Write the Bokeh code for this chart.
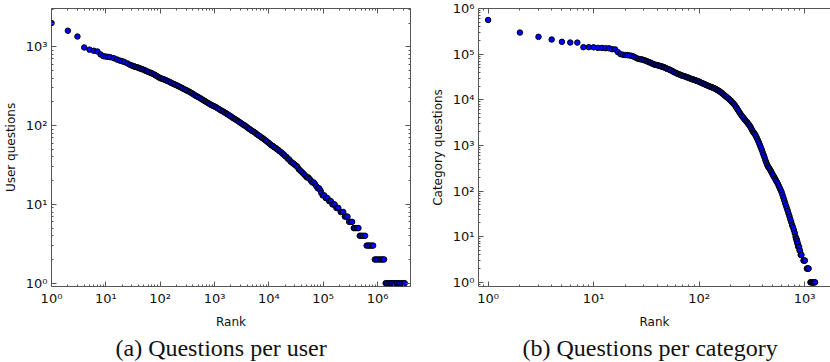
from bokeh.plotting import figure
from bokeh.models import LogAxis, FixedTicker, Title, Range1d
from bokeh.layouts import row
from bokeh.embed import file_html
from bokeh.resources import INLINE

# ---------------- data ----------------
user_rank = [1, 2, 3, 4, 5, 6, 7, 8, 9,
             10, 11, 12, 14, 16, 18, 20, 22, 25, 28,
             30, 32, 34, 35, 38, 40, 42, 45, 47, 50, 53, 56, 59, 63, 67, 70, 75, 80, 84, 89, 94,
             100, 106, 112, 119, 126, 133, 141, 150, 158, 168,
             178, 188, 200, 211, 224, 237, 251, 266, 282, 299,
             316, 335, 355, 376, 398, 422, 447, 473, 501, 531,
             562, 596, 631, 668, 708, 750, 794, 841, 891, 944,
             1000, 1059, 1122, 1189, 1259, 1334, 1413, 1496, 1585, 1679,
             1778, 1884, 1995, 2113, 2239, 2371, 2512, 2661, 2818, 2985,
             3162, 3350, 3548, 3758, 3981, 4217, 4467, 4732, 5012, 5309,
             5623, 5957, 6310, 6683, 7079, 7499, 7943, 8414, 8913, 9441,
             10000, 10590, 11220, 11890, 12590, 13340, 14130, 14960, 15850, 16790,
             17780, 18840, 19950, 21130, 22390, 23710, 25120, 26610, 28180, 29850,
             31620, 33500, 35480, 37580, 39810, 42170, 44670, 47320, 50120, 53090,
             56230, 59570, 63100, 66830, 70790, 74990, 79430, 84140, 89130,
             92000, 98000, 105000, 112000, 120000, 129000, 138000,
             148000, 155000, 162000, 175000, 183000, 190000,
             210000, 222000, 234000, 250000, 265000, 280000,
             300000, 320000, 340000, 365000, 390000, 420000, 445000,
             470000, 500000, 540000, 590000,
             630000, 675000, 725000, 775000, 830000,
             890000, 950000, 1020000, 1100000, 1170000, 1250000, 1320000,
             1410000, 1510000, 1620000, 1740000, 1860000, 2000000, 2140000,
             2290000, 2450000, 2630000, 2820000, 3020000, 3160000]
user_questions = [2000, 1600, 1350, 980, 920, 890, 871, 800, 760,
                  750, 745, 738, 716, 690, 668, 655, 640, 615, 590,
                  578, 568, 560, 556, 548, 540, 532, 525, 518, 510, 500, 492, 483, 474, 467,
                  460, 450, 440, 430, 420, 410,
                  400, 395, 390, 384, 378, 371, 365, 357, 350, 343,
                  337, 331, 325, 319, 313, 306, 300, 294, 288, 282,
                  277, 271, 265, 259, 253, 246, 240, 235, 230, 225,
                  220, 214, 209, 204, 199, 194, 190, 185, 181, 178,
                  175, 171, 167, 163, 159, 155, 152, 148, 145, 141,
                  138, 134, 131, 127, 124, 121, 118, 115, 112, 109,
                  106, 103, 101, 98, 95, 92, 90, 87, 85, 83,
                  81, 78, 76, 74, 72, 70, 68, 66, 64, 62,
                  60, 58, 56, 55, 53, 52, 50, 49, 47, 46,
                  44, 43, 41, 40, 38, 37, 35, 34, 33, 32,
                  31, 30, 28, 27, 26, 25, 24, 23, 22, 22,
                  21, 20, 19, 19, 18, 17, 16, 16, 15,
                  14, 13, 13, 12, 12, 11, 11,
                  10, 10, 10, 9, 9, 9,
                  8, 8, 8, 7, 7, 7,
                  6, 6, 6, 5, 5, 5, 5,
                  4, 4, 4, 4,
                  3, 3, 3, 3, 3,
                  2, 2, 2, 2, 2, 2, 2,
                  1, 1, 1, 1, 1, 1, 1,
                  1, 1, 1, 1, 1, 1]

cat_rank = [1, 2, 3, 4, 5, 6, 7, 8, 9, 10, 11, 12, 13, 14, 15, 16,
            17, 18, 19, 20, 21, 22, 23, 24, 25, 26, 27, 28, 29, 30,
            31, 32, 33, 34, 35, 36, 37, 38, 39, 40, 41, 42, 43, 44, 45, 46, 47, 48, 49, 50,
            52, 53, 54, 56, 57, 58, 60, 61, 63, 64, 66, 67, 69, 70, 72, 74, 76, 77, 79, 81,
            83, 85, 87, 89, 91, 93, 95, 97,
            100, 102, 105, 107, 110, 112, 115, 117, 120, 123,
            126, 129, 132, 135, 138, 141, 145, 148, 151, 155,
            158, 162, 166, 170, 174, 178, 182, 186, 191, 195,
            200, 204, 209, 214, 219, 224, 229, 234, 240, 245,
            251, 257, 263, 269, 275, 282, 288, 294,
            300, 306, 312, 318, 324, 330, 336, 343, 350, 357,
            364, 371, 378, 385, 393, 401, 409, 417, 425, 433,
            442, 451, 460, 469, 478, 487, 497, 507, 517, 527,
            537, 548, 559, 570, 581, 592, 604, 616, 628, 640,
            652, 665, 678, 691, 704, 718, 732, 746, 760, 775,
            790, 805, 820,
            830, 836, 843, 850, 856, 862, 870, 878, 886, 895, 903,
            918, 925, 932, 975, 985, 995, 1005,
            1050, 1060, 1070, 1080, 1090,
            1135, 1150, 1165, 1180, 1195, 1210, 1225, 1240, 1255]
cat_questions = [560000, 297000, 239000, 209000, 186000, 180000, 179000, 142000,
                 142000, 141000, 137000, 137000, 135000, 134000, 128000, 127000,
                 110000, 100000, 97000, 95500, 95000, 93500, 91500, 88000, 84000,
                 80000, 78000, 77000, 76000, 74000,
                 72000, 70000, 67500, 66000, 64000, 62000, 60000, 59000, 58000, 57200,
                 56500, 55500, 54500, 53700, 53000, 52000, 51000, 49700, 48500, 47700,
                 46000, 45000, 44000, 42500, 41000, 40000, 39000, 38000, 37000, 36200,
                 35500, 34700, 34000, 33500, 33000, 32200, 31500, 31000, 30500, 29700,
                 29000, 28500, 28000, 27500, 27000, 26500, 26000, 25500,
                 25000, 24200, 23500, 23000, 22500, 22000, 21500, 21000, 20500, 20000,
                 19500, 19150, 18800, 18400, 18000, 17500, 17000, 16500, 16000, 15500,
                 15000, 14400, 13800, 13100, 12500, 12000, 11500, 11000, 10500, 10000,
                 9500, 9000, 8500, 8000, 7500, 6900, 6400, 5900, 5400, 5000,
                 4600, 4300, 4000, 3750, 3500, 3300, 3100, 2900,
                 2750, 2550, 2350, 2150, 2000, 1900, 1780, 1650, 1500, 1360,
                 1230, 1110, 990, 890, 790, 690, 610, 540, 470, 420,
                 375, 340, 318, 297, 275, 252, 232, 213, 197, 183,
                 168, 155, 142, 128, 116, 105, 95, 83, 72, 63,
                 55, 48, 42, 37, 32, 28, 24, 21, 18, 16,
                 14, 12, 10,
                 9, 9, 8, 8, 7, 7, 6, 6, 6, 5, 5,
                 4, 4, 4, 3, 3, 3, 3,
                 2, 2, 2, 2, 2,
                 1, 1, 1, 1, 1, 1, 1, 1, 1]

assert len(user_rank) == len(user_questions)
assert len(cat_rank) == len(cat_questions)

# tick values and labels
a_x_ticks = [1, 10, 100, 1000, 10000, 100000, 1000000]
a_x_labels = ["10\u2070", "10\u00b9", "10\u00b2", "10\u00b3", "10\u2074", "10\u2075", "10\u2076"]
a_y_ticks = [1, 10, 100, 1000]
a_y_labels = ["10\u2070", "10\u00b9", "10\u00b2", "10\u00b3"]
b_x_ticks = [1, 10, 100, 1000]
b_x_labels = ["10\u2070", "10\u00b9", "10\u00b2", "10\u00b3"]
b_y_ticks = [1, 10, 100, 1000, 10000, 100000, 1000000]
b_y_labels = ["10\u2070", "10\u00b9", "10\u00b2", "10\u00b3", "10\u2074", "10\u2075", "10\u2076"]

MINOR = [m * 10 ** k for k in range(-1, 8) for m in range(2, 10)]
FRAME = "#555555"
TICK_FONT = "13px"
LABEL_FONT = "12px"


def style_axis(ax, ticks, labels, show_labels):
    ax.ticker = FixedTicker(ticks=ticks, minor_ticks=MINOR)
    ax.major_tick_in = 5
    ax.major_tick_out = 0
    ax.minor_tick_in = 2
    ax.minor_tick_out = 0
    ax.major_tick_line_color = FRAME
    ax.minor_tick_line_color = FRAME
    ax.axis_line_color = None
    ax.major_label_text_font = "DejaVu Sans"
    ax.major_label_text_font_size = TICK_FONT
    ax.major_label_text_color = "#111111"
    if show_labels:
        ax.major_label_overrides = {t: s for t, s in zip(ticks, labels)}
        ax.major_label_standoff = 4
    else:
        ax.major_label_overrides = {t: "" for t in ticks}
        ax.major_label_standoff = 0
    ax.axis_label_text_font = "DejaVu Sans"
    ax.axis_label_text_font_size = LABEL_FONT
    ax.axis_label_text_font_style = "normal"
    ax.axis_label_text_color = "#111111"


def make_panel(ranks, vals, xr, yr, xt, xl, yt, yl, ylabel, caption,
               frame_w, border_l, border_r, right_ticks, cap_offset):
    p = figure(frame_width=frame_w, frame_height=278,
               x_axis_type="log", y_axis_type="log",
               x_range=Range1d(*xr), y_range=Range1d(*yr),
               output_backend="svg", toolbar_location=None,
               min_border_left=border_l, min_border_right=border_r,
               min_border_top=8, min_border_bottom=68)
    p.grid.visible = False
    p.outline_line_color = FRAME if right_ticks else None
    p.outline_line_width = 1
    p.background_fill_color = "white"
    p.border_fill_color = "white"

    style_axis(p.xaxis[0], xt, xl, True)
    style_axis(p.yaxis[0], yt, yl, True)
    p.xaxis[0].axis_label = "Rank"
    p.xaxis[0].axis_label_standoff = 6
    p.yaxis[0].axis_label = ylabel
    p.yaxis[0].axis_label_standoff = 5
    if not right_ticks:
        p.xaxis[0].axis_line_color = FRAME
        p.yaxis[0].axis_line_color = FRAME

    top = LogAxis()
    style_axis(top, xt, xl, False)
    if not right_ticks:
        top.axis_line_color = FRAME
    p.add_layout(top, "above")
    if right_ticks:
        right = LogAxis()
        style_axis(right, yt, yl, False)
        p.add_layout(right, "right")

    p.add_layout(Title(text=caption, align="left", offset=cap_offset,
                       text_font="Liberation Serif", text_font_size="24px",
                       text_font_style="normal", text_color="#111111",
                       standoff=2), "below")

    p.scatter(ranks, vals, size=5.5, fill_color="#0000ff",
              line_color="black", line_width=1.0)
    return p


pa = make_panel(user_rank, user_questions, (1, 4.04e6), (0.908, 3060),
                a_x_ticks, a_x_labels, a_y_ticks, a_y_labels,
                "User questions", "(a) Questions per user",
                359, 46, 17, True, 64)
pb = make_panel(cat_rank, cat_questions, (0.81, 1758), (0.81, 1.0e6),
                b_x_ticks, b_x_labels, b_y_ticks, b_y_labels,
                "Category questions", "(b) Questions per category",
                352, 48, 0, False, 44)

layout = row(pa, pb)
open("out.html", "w").write(file_html(layout, INLINE))
